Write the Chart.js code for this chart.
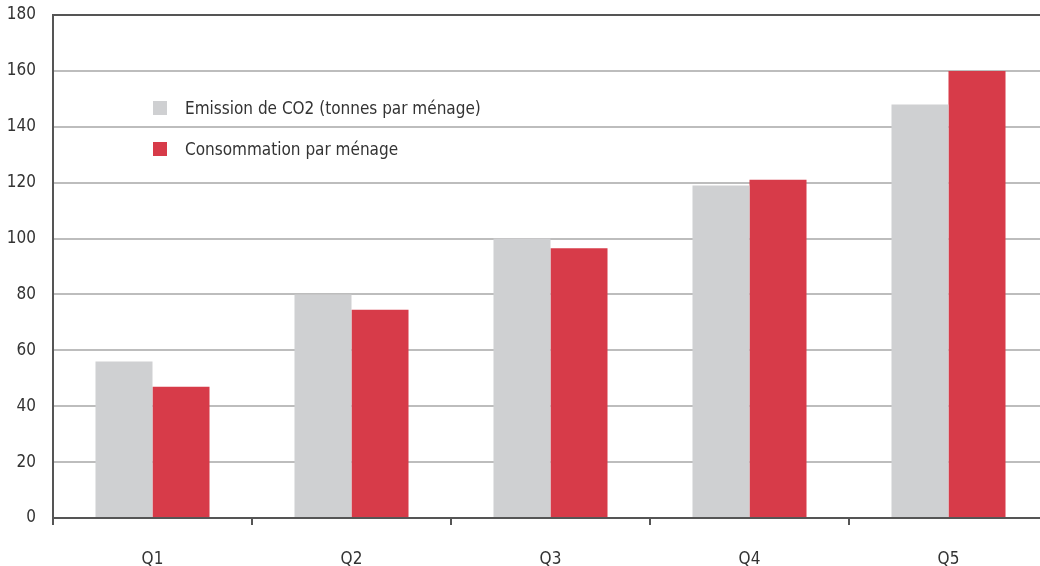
<!DOCTYPE html>
<html>
<head>
<meta charset="utf-8">
<script src="https://cdn.jsdelivr.net/npm/chart.js@4/dist/chart.umd.min.js"></script>
<style>
    html, body { margin: 0; padding: 0; background: #fff; overflow: hidden; }
    #wrap { position: relative; width: 1050px; height: 566px; }
    #legend { position: absolute; left: 153px; top: 87px; font-family: 'Liberation Sans Narrow', 'DejaVu Sans Condensed', sans-serif; font-size: 17px; color: #333; }
    #legend div { display: flex; align-items: center; height: 41px; }
    #legend span.box { display: inline-block; width: 14px; height: 14px; margin-right: 18px; }
</style>
</head>
<body>
<div id="wrap">
    <canvas id="chart" width="1050" height="566"></canvas>
    <div id="legend"></div>
</div>
<script>
// categories and series
const categories = ['Q1', 'Q2', 'Q3', 'Q4', 'Q5'];
const co2Emission = [56, 80, 100, 119, 148];
const consommation = [47, 74.5, 96.5, 121, 160];
const seriesNames = ['Emission de CO2 (tonnes par ménage)', 'Consommation par ménage'];
const seriesColors = ['#cfd0d2', '#d73b49'];

const fontFamily = "'Liberation Sans Narrow', 'DejaVu Sans Condensed', sans-serif";

// legend sits inside the plot area, built as html
const legendEl = document.getElementById('legend');
seriesNames.forEach((name, i) => {
    const row = document.createElement('div');
    row.innerHTML = '<span class="box" style="background:' + seriesColors[i] + '"></span>' + name;
    legendEl.appendChild(row);
});

new Chart(document.getElementById('chart'), {
    type: 'bar',
    data: {
        labels: categories,
        datasets: [
            { label: seriesNames[0], data: co2Emission, backgroundColor: seriesColors[0] },
            { label: seriesNames[1], data: consommation, backgroundColor: seriesColors[1] }
        ]
    },
    options: {
        responsive: false,
        animation: false,
        layout: { padding: { top: 15, right: 2, left: 0, bottom: 0 } },
        datasets: {
            bar: { categoryPercentage: 0.573, barPercentage: 1 }
        },
        plugins: {
            legend: { display: false },
            tooltip: { enabled: false }
        },
        scales: {
            x: {
                afterFit: (scale) => { scale.height = 48; },
                border: { color: '#555', width: 2 },
                grid: { drawOnChartArea: false, drawTicks: true, tickLength: 7, color: '#555', lineWidth: 2 },
                ticks: { color: '#333', font: { family: fontFamily, size: 17 }, padding: 24 }
            },
            y: {
                min: 0,
                max: 180,
                afterFit: (scale) => {
                    scale.width = 53;
                    // let the top label overflow instead of pushing the plot down
                    scale.paddingTop = 0;
                    scale.paddingBottom = 0;
                },
                border: { color: '#555', width: 2 },
                grid: {
                    drawTicks: false,
                    lineWidth: 2,
                    color: (ctx) => ctx.tick && ctx.tick.value === 180 ? '#555' : '#bdbdbd'
                },
                ticks: { stepSize: 20, color: '#333', font: { family: fontFamily, size: 17 }, padding: 17 }
            }
        }
    }
});
</script>
</body>
</html>
